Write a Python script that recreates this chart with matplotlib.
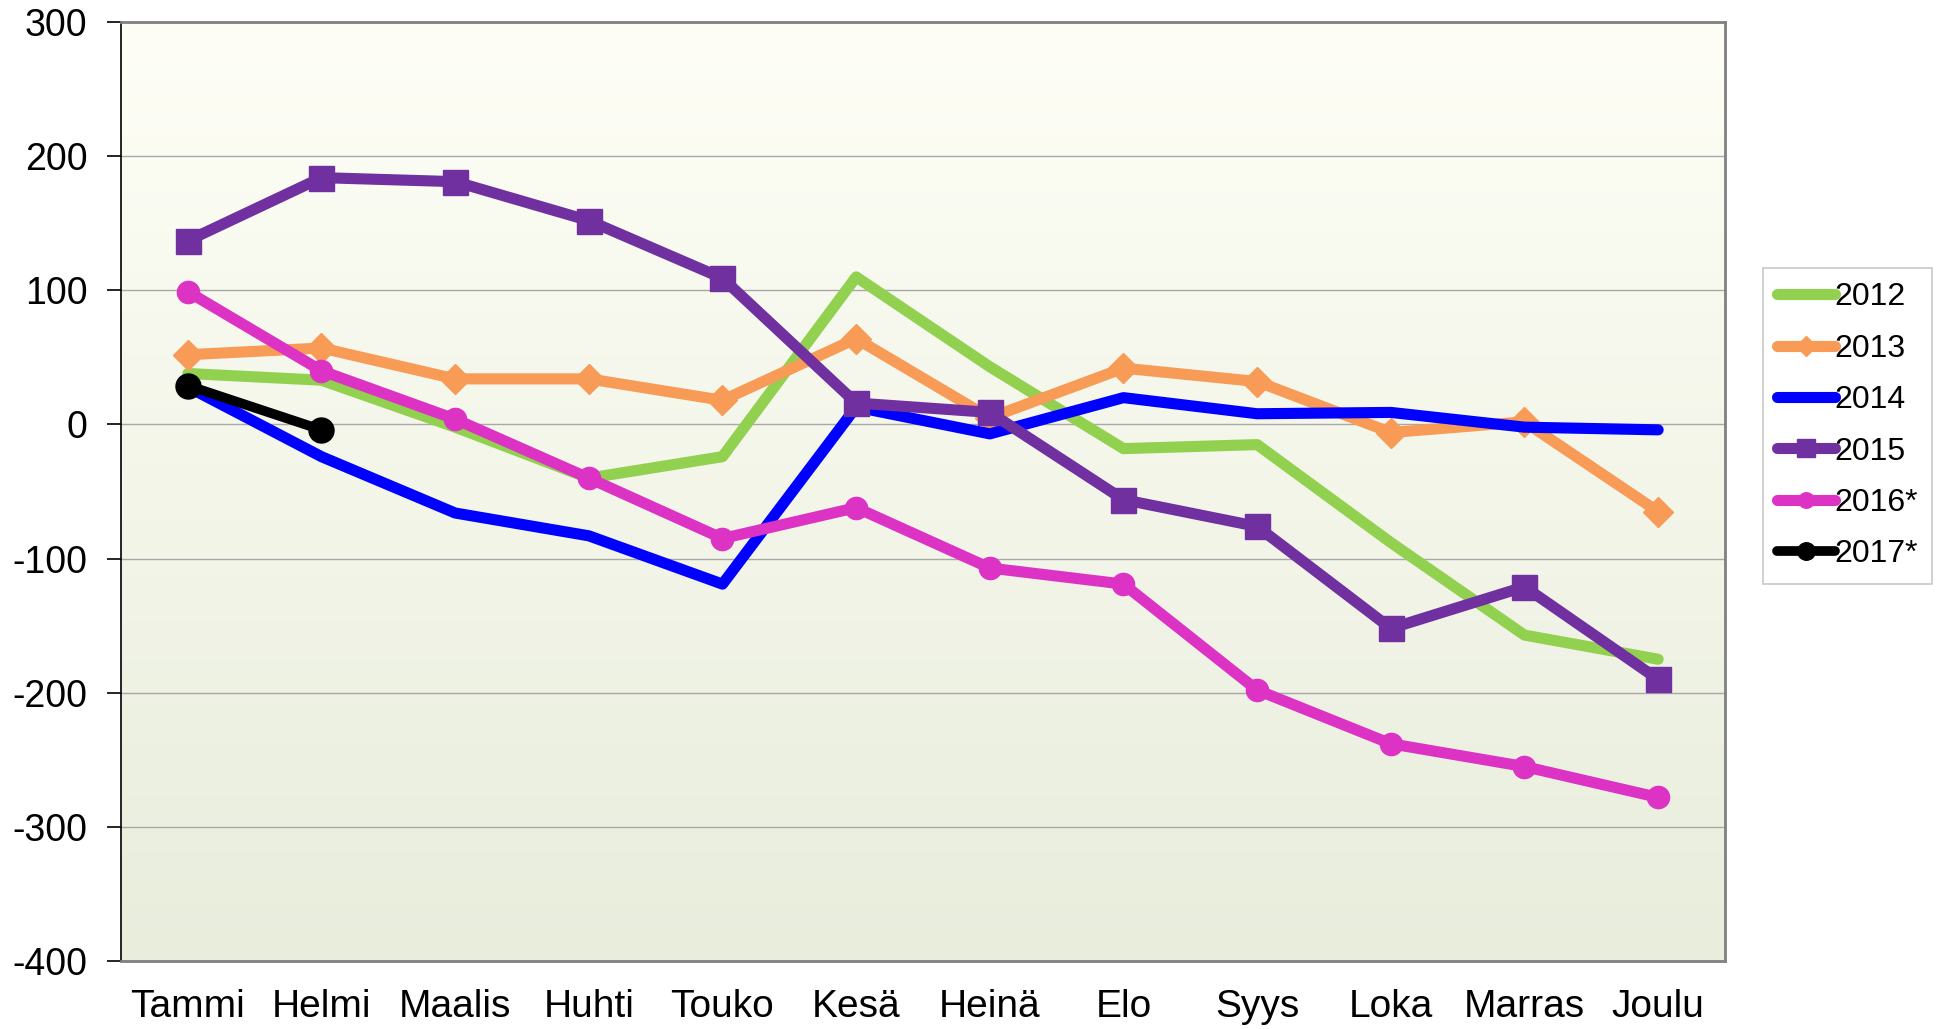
import numpy as np
import matplotlib
matplotlib.use("Agg")
import matplotlib.pyplot as plt
from matplotlib.colors import LinearSegmentedColormap

months = ["Tammi", "Helmi", "Maalis", "Huhti", "Touko", "Kesä", "Heinä",
          "Elo", "Syys", "Loka", "Marras", "Joulu"]
s2012 = [38, 33, -2, -40, -24, 110, 43, -18, -15, -88, -157, -175]
s2013 = [52, 57, 34, 34, 18, 64, 5, 42, 32, -6, 2, -65]
s2014 = [28, -24, -66, -83, -119, 13, -7, 20, 8, 9, -2, -4]
s2015 = [137, 184, 181, 152, 109, 16, 9, -56, -76, -152, -121, -190]
s2016 = [99, 40, 4, -40, -85, -62, -107, -119, -198, -238, -255, -278]
s2017 = [29, -4]
yticks = [300, 200, 100, 0, -100, -200, -300, -400]

plt.rcParams['font.family'] = ['Liberation Sans', 'DejaVu Sans']

fig = plt.figure(figsize=(19.36, 10.29), dpi=100)
ax = fig.add_axes([0.0625, 0.066, 0.8285, 0.9126])

x = np.arange(len(months))
ax.set_xlim(-0.5, len(months) - 0.5)
ax.set_ylim(-400, 300)

# gradient background
cmap = LinearSegmentedColormap.from_list("bg", ["#E8EDDC", "#FEFEF6"])
grad = np.linspace(0, 1, 256).reshape(-1, 1)
ax.imshow(grad, aspect='auto', cmap=cmap, origin='lower',
          extent=[-0.5, len(months) - 0.5, -400, 300], zorder=0)

for yv in yticks:
    ax.axhline(yv, color='#A8A8A8', lw=1.0, zorder=1)

common = dict(lw=8, solid_capstyle='round', solid_joinstyle='round', zorder=3)
ax.plot(x, s2012, color='#92D050', label='2012', **common)
ax.plot(x, s2013, color='#F79B57', marker='D', ms=15, label='2013', **common)
ax.plot(x, s2014, color='#0000FF', label='2014', **common)
ax.plot(x, s2015, color='#7030A0', marker='s', ms=18, label='2015', **common)
ax.plot(x, s2016, color='#DD33C4', marker='o', ms=16, label='2016*', **common)
ax.plot(x[:len(s2017)], s2017, color='#000000', marker='o', ms=18, label='2017*',
        lw=7, solid_capstyle='round', zorder=4)

ax.set_xticks(x)
ax.set_xticklabels(months, fontsize=28)
ax.set_yticks(yticks)
ax.set_yticklabels([str(v) for v in yticks], fontsize=27)
ax.tick_params(axis='x', length=0, pad=20)
ax.tick_params(axis='y', length=10, width=1.2, direction='out', pad=14)

for side in ['top', 'right', 'bottom']:
    ax.spines[side].set_color('#808080')
    ax.spines[side].set_linewidth(2)
ax.spines['left'].set_color('black')
ax.spines['left'].set_linewidth(1.2)

leg = ax.legend(loc='upper left', bbox_to_anchor=(1.0235, 0.738), fontsize=23,
                frameon=True, fancybox=False, handlelength=1.8, handletextpad=0.0,
                labelspacing=0.67, borderpad=0.45, markerscale=0.7, borderaxespad=0)
leg.get_frame().set_edgecolor('#BBBBBB')
leg.get_frame().set_linewidth(1.2)

fig.savefig("out.png", dpi=100, facecolor='white')
